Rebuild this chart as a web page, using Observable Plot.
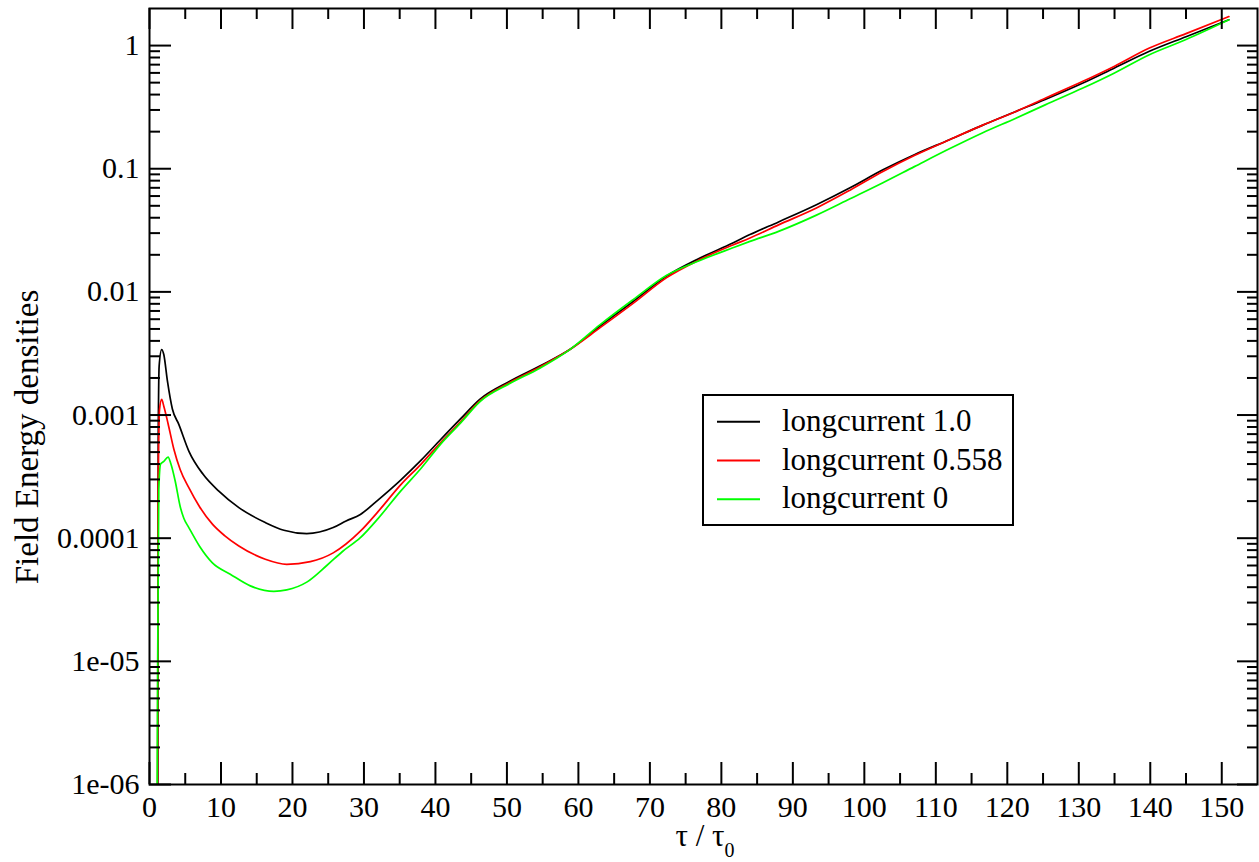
<!DOCTYPE html>
<html><head><meta charset="utf-8">
<script src="https://cdn.jsdelivr.net/npm/d3@7"></script>
<script src="https://cdn.jsdelivr.net/npm/@observablehq/plot@0.6"></script>
<style>html,body{margin:0;padding:0;background:#fff}</style>
</head><body><div id="chart"></div>
<script>
// ---- data ----
const seriesNames = ["longcurrent 1.0", "longcurrent 0.558", "longcurrent 0"];
const seriesColors = ["#000000", "#ff0000", "#00ff00"];

const tauA = [1.15, 1.22, 1.35, 1.7, 2.0, 2.5, 3.2, 4.1, 5.5, 7.5, 9.7, 12.5, 16.2, 18.8, 22.0, 25.7, 27.5, 29.5, 32, 35.1, 38, 40.7, 43.5, 46.2, 50.4, 54.6, 58.8, 63.0, 67.7, 72.3, 77.0, 81.6, 84.0, 88, 93.3, 98, 102.6, 107, 111.9, 116.5, 121.2, 125.3, 130.5, 135, 139.8, 145, 151];
const valA = [1e-7, 6e-4, 0.0025, 0.0034, 0.0031, 0.0019, 0.00112, 0.00084, 0.00051, 0.00033, 0.000241, 0.000177, 0.000134, 0.000116, 0.000109, 0.000122, 0.000138, 0.000156, 0.000205, 0.000295, 0.00043, 0.00063, 0.00093, 0.00134, 0.00188, 0.0025, 0.0034, 0.00526, 0.0084, 0.0134, 0.0188, 0.0249, 0.0292, 0.037, 0.051, 0.07, 0.098, 0.13, 0.172, 0.225, 0.292, 0.365, 0.494, 0.658, 0.894, 1.18, 1.62];

const tauB = [1.1, 1.2, 1.4, 1.7, 2.0, 2.6, 3.4, 4.3, 5.5, 7.0, 8.8, 10.5, 12.5, 16.2, 19.2, 22.5, 25.7, 29.5, 32, 35.1, 38, 40.7, 43.5, 46.2, 50.4, 54.6, 58.8, 63.0, 67.7, 72.3, 77.0, 81.6, 84.0, 88, 93.3, 98, 102.6, 107, 111.9, 116.5, 121.2, 125.3, 130.5, 135, 139.8, 145, 151];
const valB = [1e-7, 2e-4, 0.0011, 0.00134, 0.00118, 0.00085, 0.00053, 0.00036, 0.000257, 0.00018, 0.00013, 0.000105, 8.65e-5, 6.75e-5, 6.14e-5, 6.45e-5, 7.6e-5, 0.000114, 0.000165, 0.00027, 0.0004, 0.000595, 0.00088, 0.0013, 0.00184, 0.00245, 0.0034, 0.0051, 0.0081, 0.013, 0.0183, 0.024, 0.0274, 0.035, 0.048, 0.067, 0.095, 0.128, 0.172, 0.225, 0.292, 0.374, 0.51, 0.68, 0.95, 1.25, 1.72];

const tauC = [1.0, 1.15, 1.3, 1.55, 2.0, 2.6, 3.0, 3.6, 4.3, 4.8, 5.5, 7.0, 8.8, 11.3, 14.1, 17.4, 19.2, 22.0, 24.8, 27, 29.5, 32, 35.1, 38, 40.7, 43.5, 46.2, 50.4, 54.6, 58.8, 63.0, 67.7, 72.3, 77.0, 81.6, 84.0, 88, 93.3, 98, 102.6, 107, 111.9, 116.5, 121.2, 125.3, 130.5, 135, 139.8, 145, 151];
const valC = [1e-7, 1e-5, 0.00025, 0.0004, 0.00042, 0.000456, 0.0004, 0.00029, 0.00018, 0.000145, 0.000122, 8.6e-5, 6.3e-5, 5.1e-5, 4.1e-5, 3.7e-5, 3.8e-5, 4.4e-5, 6.0e-5, 7.8e-5, 0.000101, 0.000145, 0.00024, 0.00037, 0.000578, 0.00086, 0.00128, 0.0018, 0.0024, 0.0034, 0.0054, 0.0087, 0.0136, 0.018, 0.0228, 0.0257, 0.031, 0.042, 0.057, 0.077, 0.104, 0.145, 0.195, 0.257, 0.33, 0.45, 0.6, 0.84, 1.12, 1.62];

const xTicks = [0, 10, 20, 30, 40, 50, 60, 70, 80, 90, 100, 110, 120, 130, 140, 150];
const xMinorTicks = [5, 15, 25, 35, 45, 55, 65, 75, 85, 95, 105, 115, 125, 135, 145];
const yTicks = [1e-6, 1e-5, 1e-4, 1e-3, 1e-2, 0.1, 1];
const yTickLabels = ["1e-06", "1e-05", "0.0001", "0.001", "0.01", "0.1", "1"];
const yMinorMultipliers = [2, 3, 4, 5, 6, 7, 8, 9];
const xLabelMain = "τ / τ";
const xLabelSub = "0";
const yLabel = "Field Energy densities";

// ---- build tables ----
const taus = [tauA, tauB, tauC];
const vals = [valA, valB, valC];
const rows = seriesNames.flatMap((name, s) => taus[s].map((t, i) => ({series: name, t, v: vals[s][i]})));
const yMinorTicks = yTicks.slice(0, -1).flatMap(d => yMinorMultipliers.map(m => m * d));

// ---- layout ----
const W = 1259, H = 862;
const mL = 149, mR = 2, mT = 8, mB = 78;
const fw = W - mL - mR, fh = H - mT - mB;
const font = "'Liberation Serif', 'Times New Roman', 'DejaVu Serif', serif";

const chart = Plot.plot({
  width: W, height: H,
  marginLeft: mL, marginRight: mR, marginTop: mT, marginBottom: mB,
  style: {fontFamily: font, fontSize: "30px", background: "#fff", color: "#000", overflow: "visible"},
  x: {domain: [0, 155], ticks: xTicks, tickFormat: d => String(d), tickSize: 0, tickPadding: 11, label: null},
  y: {type: "log", domain: [1e-6, 2], ticks: yTicks, tickFormat: d => yTickLabels[yTicks.indexOf(d)], tickSize: 0, tickPadding: 10, label: null},
  color: {domain: seriesNames, range: seriesColors},
  marks: [
    Plot.line(rows, {x: "t", y: "v", z: "series", stroke: "series", strokeWidth: 1.7, curve: "monotone-x", clip: true}),
    // inward ticks, mirrored on all four sides
    Plot.ruleX(xTicks, {x: d => d, insetTop: fh - 22, stroke: "#000", strokeWidth: 2}),
    Plot.ruleX(xTicks, {x: d => d, insetBottom: fh - 21, stroke: "#000", strokeWidth: 2}),
    Plot.ruleX(xMinorTicks, {x: d => d, insetTop: fh - 11, stroke: "#000", strokeWidth: 2}),
    Plot.ruleX(xMinorTicks, {x: d => d, insetBottom: fh - 11, stroke: "#000", strokeWidth: 2}),
    Plot.ruleY(yTicks, {y: d => d, insetRight: fw - 22, stroke: "#000", strokeWidth: 2}),
    Plot.ruleY(yTicks, {y: d => d, insetLeft: fw - 20, stroke: "#000", strokeWidth: 2}),
    Plot.ruleY(yMinorTicks, {y: d => d, insetRight: fw - 11, stroke: "#000", strokeWidth: 2}),
    Plot.ruleY(yMinorTicks, {y: d => d, insetLeft: fw - 10, stroke: "#000", strokeWidth: 2}),
    Plot.frame({stroke: "#000", strokeWidth: 2})
  ]
});
document.getElementById("chart").appendChild(chart);

// ---- labels & legend ----
const svg = d3.select(chart);
const xl = svg.append("text")
  .attr("x", mL + fw / 2 + 2).attr("y", 846)
  .attr("text-anchor", "middle")
  .style("font-family", font).style("font-size", "31px").attr("fill", "#000");
xl.append("tspan").text(xLabelMain);
xl.append("tspan").attr("dy", 11).style("font-size", "20px").text(xLabelSub);

svg.append("text")
  .attr("transform", `translate(38, 437) rotate(-90)`)
  .attr("text-anchor", "middle")
  .style("font-family", font).style("font-size", "33px").attr("fill", "#000")
  .text(yLabel);

const lg = svg.append("g");
lg.append("rect").attr("x", 703).attr("y", 395).attr("width", 310).attr("height", 130)
  .attr("fill", "#fff").attr("stroke", "#000").attr("stroke-width", 2);
seriesNames.forEach((name, i) => {
  const cy = 421.7 + i * 38.8;
  lg.append("line").attr("x1", 717).attr("x2", 760).attr("y1", cy).attr("y2", cy)
    .attr("stroke", seriesColors[i]).attr("stroke-width", 2);
  lg.append("text").attr("x", 782).attr("y", cy + 9)
    .attr("text-anchor", "start")
    .style("font-family", font).style("font-size", "31px").attr("fill", "#000")
    .text(name);
});
</script></body></html>
